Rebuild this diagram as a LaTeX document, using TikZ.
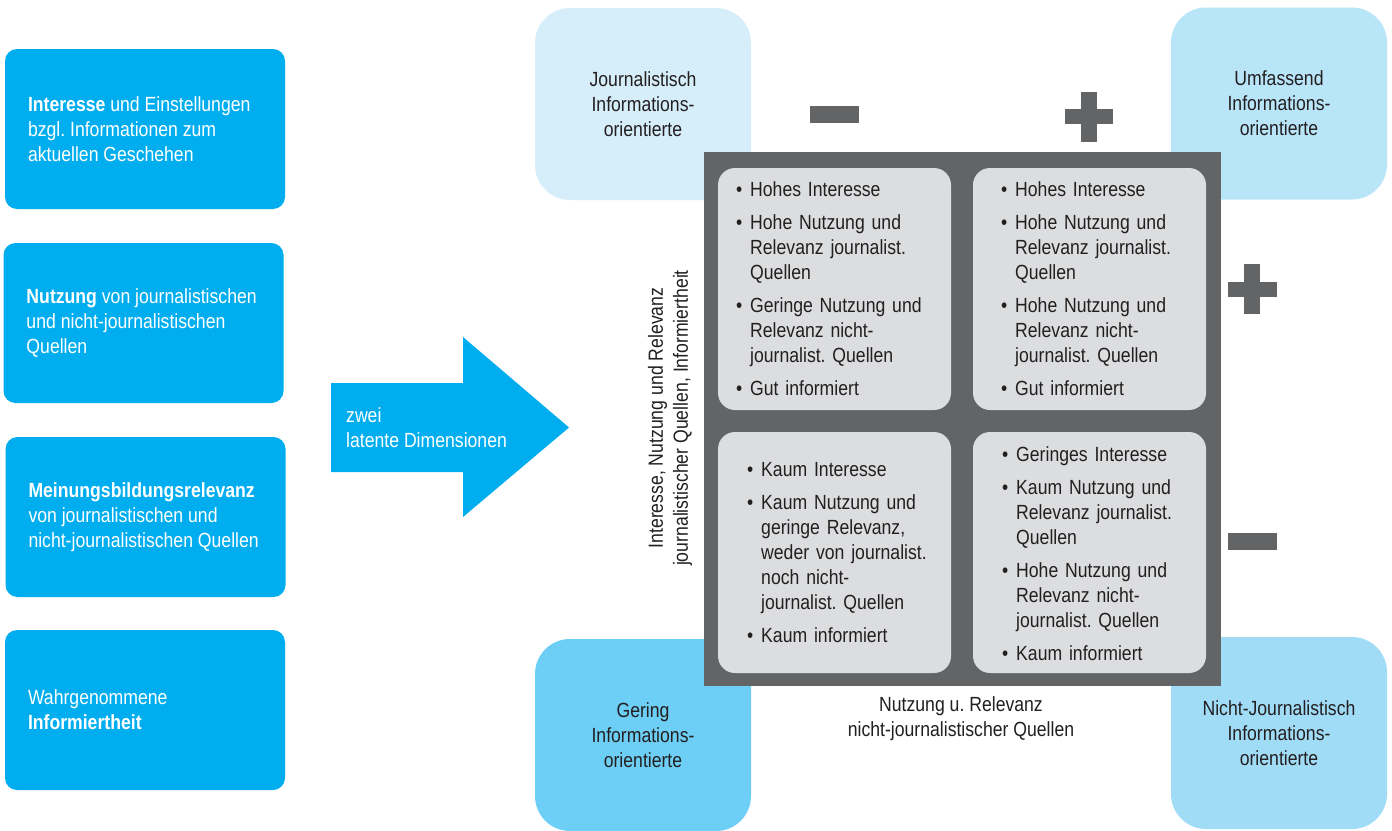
\documentclass[tikz,border=0pt]{standalone}
\usepackage{fontspec}
\setmainfont[FakeStretch=0.86]{Liberation Sans}
\definecolor{cyanbox}{HTML}{00AEEF}
\definecolor{tlblue}{HTML}{D6EEFA}
\definecolor{trblue}{HTML}{B9E5F9}
\definecolor{blblue}{HTML}{6DCFF6}
\definecolor{brblue}{HTML}{A1DCF7}
\definecolor{darkgrey}{HTML}{636466}
\definecolor{quadgrey}{HTML}{DCDDDF}
\definecolor{textdark}{HTML}{231F20}
\newcommand{\mainfs}{\fontsize{20.5}{25}\selectfont\frenchspacing}
% bullet list entries with hanging indent (lines broken with \newline)
\newcommand{\firstitem}[1]{\noindent\hangindent=14pt\hangafter=1\makebox[14pt][l]{\textbullet}#1}
\newcommand{\nextitem}[1]{\par\vspace{8pt}\noindent\hangindent=14pt\hangafter=1\makebox[14pt][l]{\textbullet}#1}
\begin{document}
\begin{tikzpicture}[x=1pt,y=-1pt,
  leftbox/.style={fill=cyanbox, rounded corners=12pt, minimum width=280pt,
    minimum height=160pt, inner sep=0pt},
  lefttext/.style={anchor=west, inner sep=0pt, align=left, text=white, font=\mainfs},
  cornerbox/.style={rounded corners=35pt, minimum width=216pt, minimum height=192pt,
    inner sep=0pt, align=center, text=textdark, font=\mainfs},
  quadbox/.style={fill=quadgrey, rounded corners=17pt, inner sep=0pt},
  quadtext/.style={anchor=west, inner sep=0pt, text width=205pt, align=left,
    text=textdark, font=\mainfs},
  plaintext/.style={inner sep=0pt, align=center, text=textdark, font=\mainfs},
  sign/.style={fill=darkgrey}]

\useasboundingbox (0,0) rectangle (1392,830);
\fill[white] (0,0) rectangle (1392,830);

% input variables
\node[leftbox] (interesse) at (145,129) {};
\node[leftbox] (nutzung) at (143.5,323) {};
\node[leftbox] (relevanz) at (145.5,517) {};
\node[leftbox] (informiert) at (145,710) {};
\node[lefttext] (interesse-t) at ([xshift=23pt]interesse.west)
  {\textbf{Interesse} und Einstellungen\\bzgl. Informationen zum\\aktuellen Geschehen};
\node[lefttext] (nutzung-t) at ([xshift=23pt]nutzung.west)
  {\textbf{Nutzung} von journalistischen\\und nicht-journalistischen\\Quellen};
\node[lefttext] (relevanz-t) at ([xshift=23pt]relevanz.west)
  {\textbf{Meinungsbildungsrelevanz}\\von journalistischen und\\nicht-journalistischen Quellen};
\node[lefttext] (informiert-t) at ([xshift=23pt]informiert.west)
  {Wahrgenommene\\\textbf{Informiertheit}};

% block arrow
\fill[cyanbox] (331,383) -- (463,383) -- (463,337) -- (569,427.5)
  -- (463,517) -- (463,472) -- (331,472) -- cycle;
\node[lefttext] (dims) at (346,427.5) {zwei\\latente Dimensionen};

% four types
\node[cornerbox, fill=tlblue] (journ) at (643,104)
  {Journalistisch\\Informations-\\orientierte};
\node[cornerbox, fill=trblue] (umf) at (1279,103.5)
  {Umfassend\\Informations-\\orientierte};
\node[cornerbox, fill=blblue] (gering) at (643,735)
  {Gering\\Informations-\\orientierte};
\node[cornerbox, fill=brblue] (nichtj) at (1279,733)
  {Nicht-Journalistisch\\Informations-\\orientierte};

% matrix
\node[fill=darkgrey, minimum width=517pt, minimum height=534pt, inner sep=0pt]
  (grid) at (962.5,419) {};
\node[quadbox, minimum width=233pt, minimum height=242pt] (q11) at (834.5,289) {};
\node[quadbox, minimum width=233pt, minimum height=242pt] (q12) at (1089.5,289) {};
\node[quadbox, minimum width=233pt, minimum height=241pt] (q21) at (834.5,552.5) {};
\node[quadbox, minimum width=233pt, minimum height=241pt] (q22) at (1089.5,552.5) {};

\node[quadtext] (t11) at (736,289) {%
  \firstitem{Hohes Interesse}
  \nextitem{Hohe Nutzung und\newline Relevanz journalist.\newline Quellen}
  \nextitem{Geringe Nutzung und\newline Relevanz nicht-\newline journalist. Quellen}
  \nextitem{Gut informiert}};
\node[quadtext] (t12) at (1001,289) {%
  \firstitem{Hohes Interesse}
  \nextitem{Hohe Nutzung und\newline Relevanz journalist.\newline Quellen}
  \nextitem{Hohe Nutzung und\newline Relevanz nicht-\newline journalist. Quellen}
  \nextitem{Gut informiert}};
\node[quadtext] (t21) at (747,553) {%
  \firstitem{Kaum Interesse}
  \nextitem{Kaum Nutzung und\newline geringe Relevanz,\newline weder von journalist.\newline noch nicht-\newline journalist. Quellen}
  \nextitem{Kaum informiert}};
\node[quadtext] (t22) at (1002,554) {%
  \firstitem{Geringes Interesse}
  \nextitem{Kaum Nutzung und\newline Relevanz journalist.\newline Quellen}
  \nextitem{Hohe Nutzung und\newline Relevanz nicht-\newline journalist. Quellen}
  \nextitem{Kaum informiert}};

% axis labels
\node[plaintext, rotate=90] (yaxis) at (670,418)
  {Interesse, Nutzung und Relevanz\\journalistischer Quellen, Informiertheit};
\node[plaintext] (xaxis) at (961,718.5)
  {Nutzung u. Relevanz\\nicht-journalistischer Quellen};

% plus and minus signs
\fill[sign] (810,106) rectangle (859,123);
\fill[sign] (1065,109) rectangle (1113,124);
\fill[sign] (1081,92) rectangle (1097,142);
\fill[sign] (1228,282) rectangle (1277,297);
\fill[sign] (1244,264) rectangle (1260,314);
\fill[sign] (1228,533) rectangle (1277,550);
\end{tikzpicture}
\end{document}
